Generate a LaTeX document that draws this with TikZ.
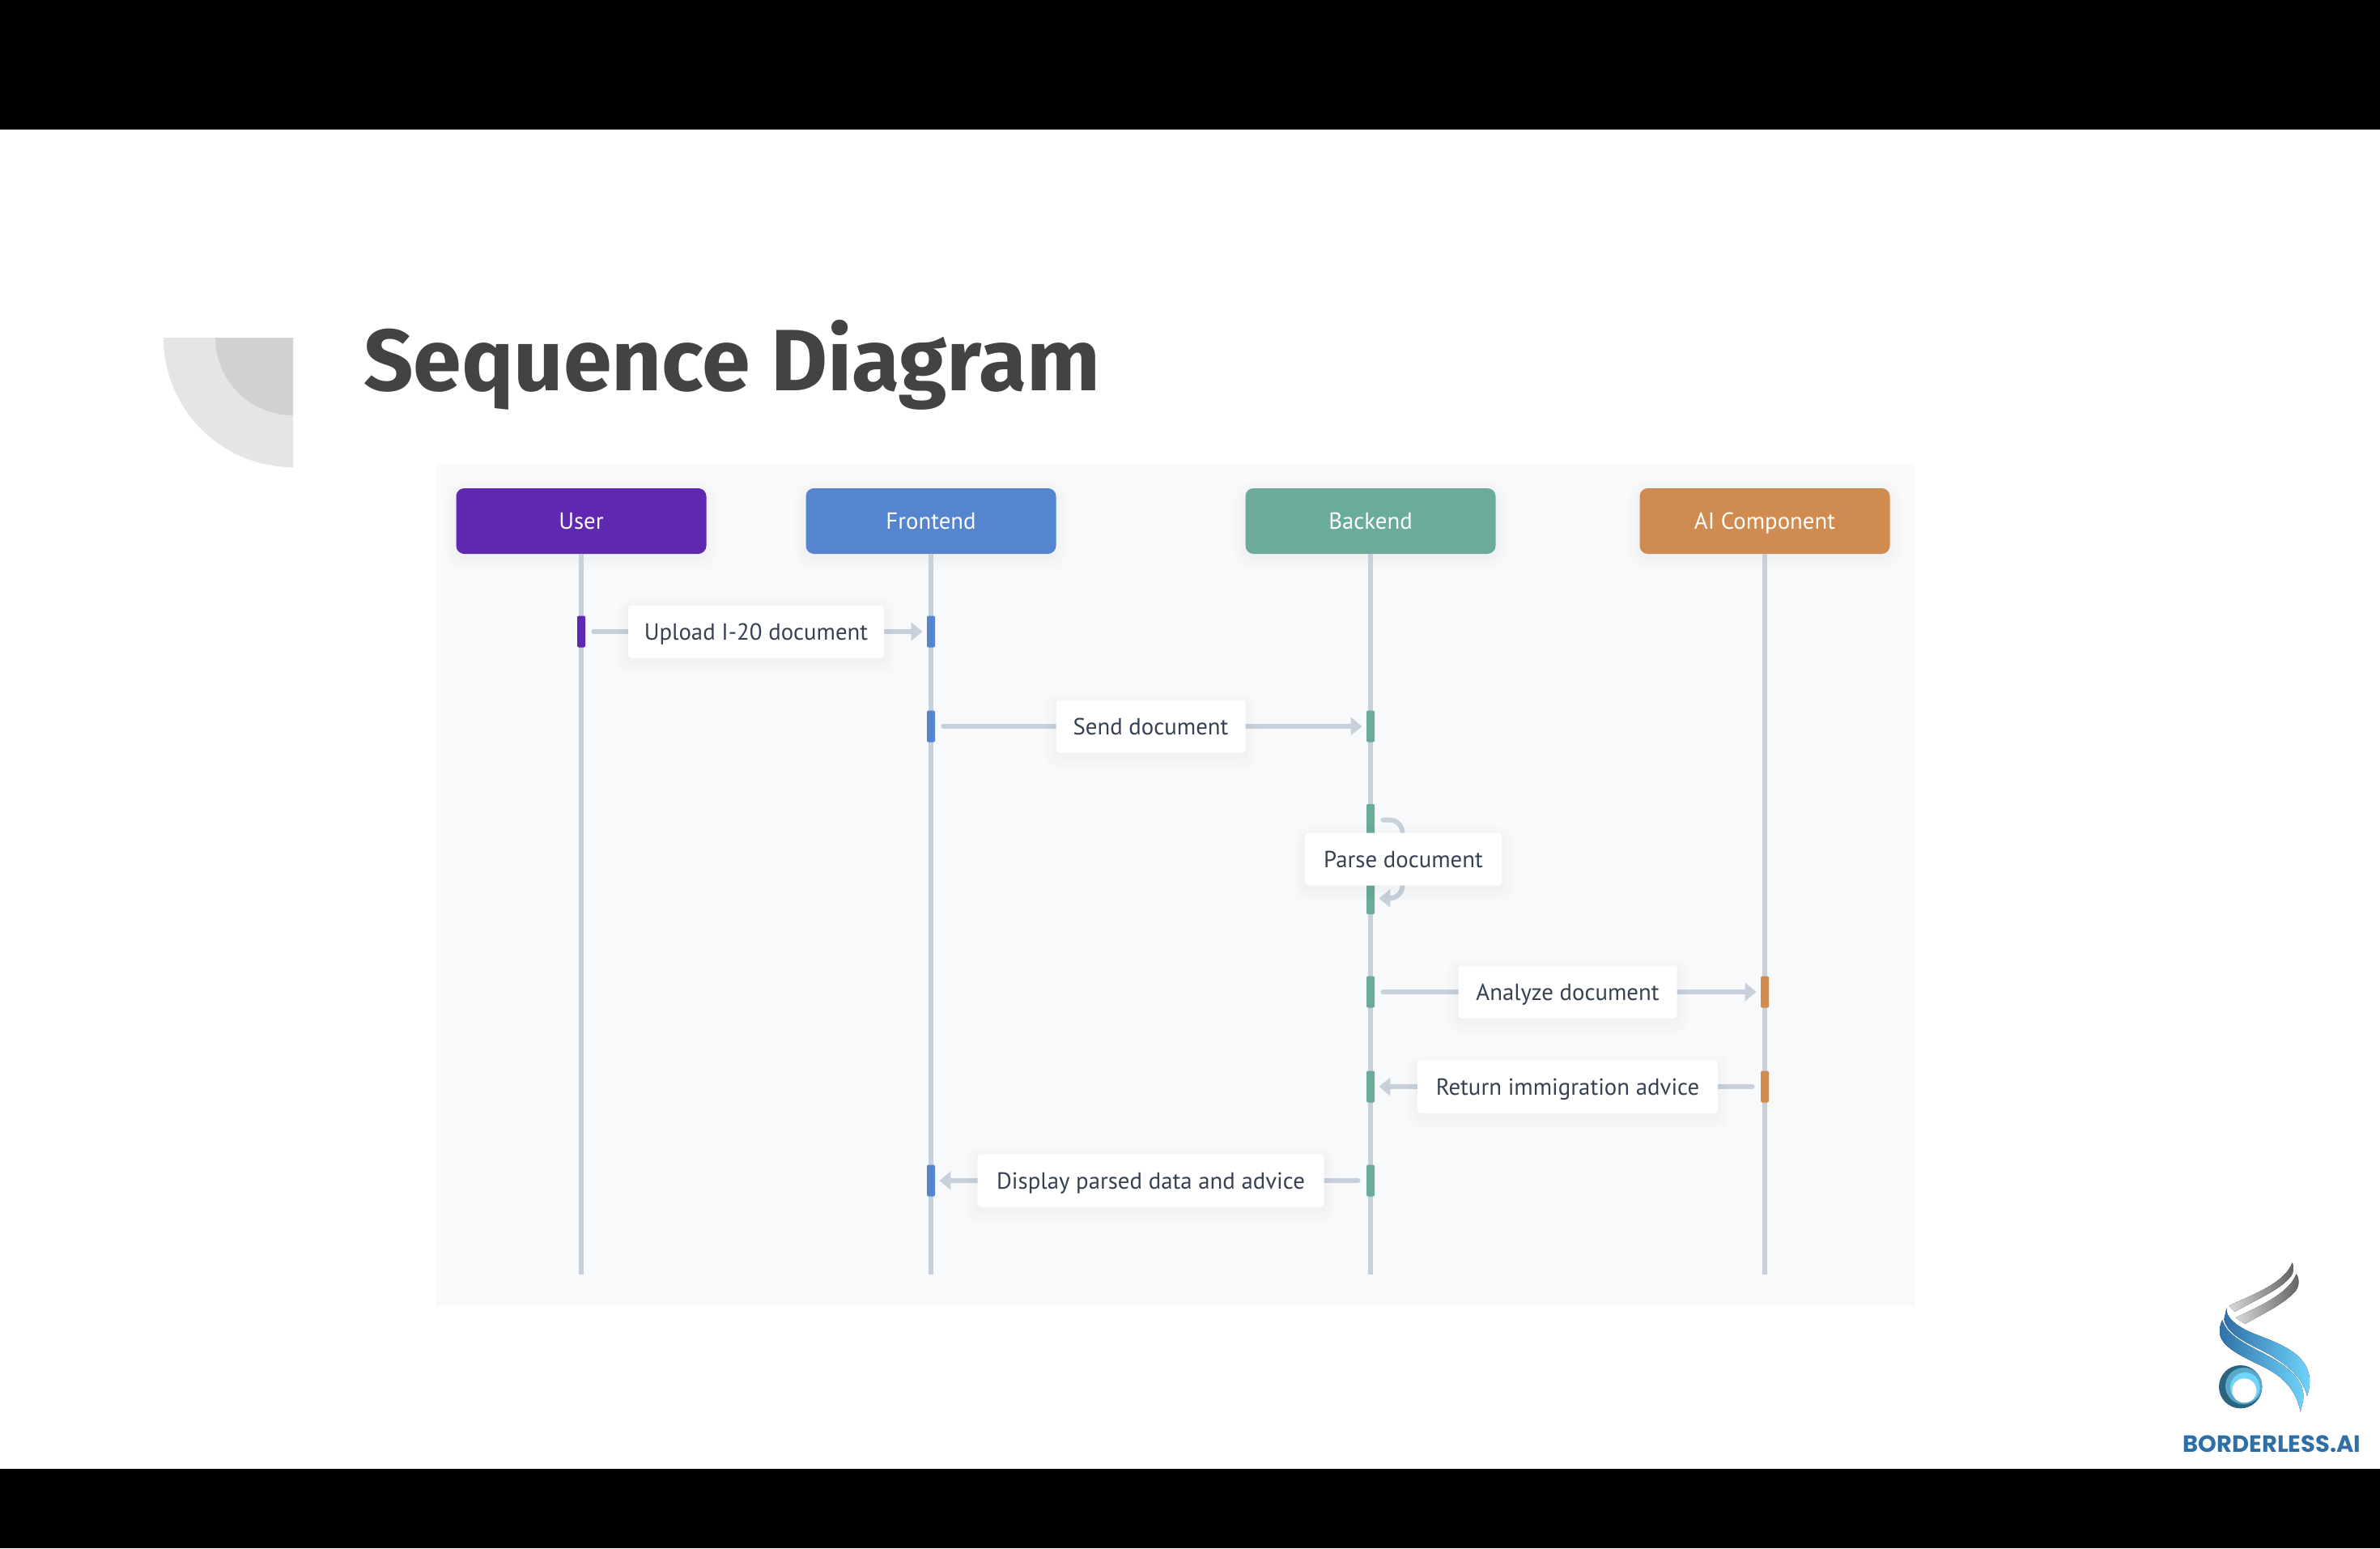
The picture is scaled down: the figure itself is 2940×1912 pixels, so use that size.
\documentclass[tikz,border=0pt]{standalone}
\usepackage{fontspec}
\setmainfont{PT Sans}
\newfontfamily\titlefont{Fira Sans}
\newfontfamily\logofont{Poppins}
\usetikzlibrary{arrows.meta, positioning}
\definecolor{usercol}{HTML}{6027B0}
\definecolor{frontcol}{HTML}{5585CE}
\definecolor{backcol}{HTML}{6AAB9C}
\definecolor{aicol}{HTML}{D08C50}
\definecolor{linecol}{HTML}{C8D0DC}
\definecolor{panelcol}{HTML}{F7F9FB}
\definecolor{textcol}{HTML}{374151}
\definecolor{titlecol}{HTML}{434343}
\definecolor{logocol}{HTML}{2F6FA8}
\definecolor{logolight}{HTML}{6FD5FB}
\definecolor{ringdark}{HTML}{2A6480}
\definecolor{ringmid}{HTML}{5AA8C8}

\begin{document}
\begin{tikzpicture}[
           x = 0.5pt, y = -0.5pt,
softshadow/.style = {preaction={draw=black,draw opacity=.007,line width=14pt,transform canvas={yshift=-3pt}},
                     preaction={draw=black,draw opacity=.008,line width=9pt,transform canvas={yshift=-3pt}},
                     preaction={draw=black,draw opacity=.01,line width=4pt,transform canvas={yshift=-2pt}}},
     actor/.style = {softshadow, rounded corners=5pt, minimum width=154.5pt, minimum height=40.5pt,
                     inner sep=0pt, text=white, text height=10pt, text depth=0pt,
                     font=\fontsize{14.4}{16}\selectfont},
  lifeline/.style = {line width=3.2pt, linecol},
activation/.style = {rounded corners=1pt, minimum width=5pt, minimum height=19.5pt, inner sep=0pt},
       msg/.style = {line width=3pt, linecol, line cap=round, -{Triangle[length=7pt,width=11pt]},
                     shorten <=5pt, shorten >=2.5pt},
  msglabel/.style = {softshadow, fill=white, rounded corners=2pt, minimum height=32.5pt, inner sep=0pt,
                     text=textcol, text height=10pt, text depth=0pt,
                     font=\fontsize{14.4}{16}\selectfont}
                        ]
\useasboundingbox (0,0) rectangle (2940,1912);
% bars and panel
    \fill[black] (0,0) rectangle (2940,160);
    \fill[black] (0,1814) rectangle (2940,1912);
    \fill[panelcol] (538,573) rectangle (2366,1613);
% corner shape and title
    \fill[black!10] (362,417) -- (202,417) arc (180:90:160) -- cycle;
    \fill[black!18] (362,417) -- (266,417) arc (180:90:96) -- cycle;
    \node[anchor=west, inner sep=0pt, text=titlecol, font=\titlefont\bfseries\fontsize{53.8}{60}\selectfont] (title) at (449,451) {Sequence Diagram};
% participants
    \node[actor, fill=usercol] (user) at (718,643.5) {User};
    \node[actor, fill=frontcol] (front) at (1150,643.5) {Frontend};
    \node[actor, fill=backcol] (back) at (1693,643.5) {Backend};
    \node[actor, fill=aicol] (ai) at (2180,643.5) {AI Component};
% lifelines
    \coordinate (userEnd) at (718,1574);
    \coordinate (frontEnd) at (1150,1574);
    \coordinate (backEnd) at (1693,1574);
    \coordinate (aiEnd) at (2180,1574);
    \draw[lifeline] (user.south) -- (userEnd);
    \draw[lifeline] (front.south) -- (frontEnd);
    \draw[lifeline] (back.south) -- (backEnd);
    \draw[lifeline] (ai.south) -- (aiEnd);
% activations
    \node[activation, fill=usercol] (a1) at (718,780) {};
    \node[activation, fill=frontcol] (b1) at (1150,780) {};
    \node[activation, fill=frontcol] (a2) at (1150,897) {};
    \node[activation, fill=backcol] (b2) at (1693,897) {};
    \node[activation, fill=backcol] (a3) at (1693,1012.5) {};
    \node[activation, fill=backcol] (b3) at (1693,1109.5) {};
    \node[activation, fill=backcol] (a4) at (1693,1225) {};
    \node[activation, fill=aicol] (b4) at (2180,1225) {};
    \node[activation, fill=aicol] (a5) at (2180,1342) {};
    \node[activation, fill=backcol] (b5) at (1693,1342) {};
    \node[activation, fill=backcol] (a6) at (1693,1458) {};
    \node[activation, fill=frontcol] (b6) at (1150,1458) {};
% messages
    \draw[msg] (a1) -- (b1) node[msglabel, midway, minimum width=158pt] (m1) {Upload I-20 document};
    \draw[msg] (a2) -- (b2) node[msglabel, midway, minimum width=117pt] (m2) {Send document};
    \draw[msg, rounded corners=8pt] (a3.east) -- ++(34,0) |- (b3.east);
    \node[msglabel, minimum width=121.5pt] (m3) at (1733.5,1061) {Parse document};
    \draw[msg] (a4) -- (b4) node[msglabel, midway, minimum width=135pt] (m4) {Analyze document};
    \draw[msg] (a5) -- (b5) node[msglabel, midway, minimum width=185.5pt] (m5) {Return immigration advice};
    \draw[msg] (a6) -- (b6) node[msglabel, midway, minimum width=214pt] (m6) {Display parsed data and advice};
% logo, drawn in thirds of a pixel
\begin{scope}[shift={(2640,1530)}, x=0.16667pt, y=-0.16667pt]
    \fill[left color=black!15, right color=black!62] (340,248) .. controls (430,205) and (545,165) .. (575,88) .. controls (582,105) and (580,125) .. (570,138) .. controls (530,190) and (440,225) .. (362,270) -- cycle;
    \fill[left color=black!15, right color=black!62] (365,292) .. controls (450,250) and (560,205) .. (590,130) .. controls (603,150) and (600,180) .. (585,195) .. controls (540,245) and (460,280) .. (400,315) -- cycle;
    \fill[left color=logocol, right color=logolight] (332,255) .. controls (325,290) and (370,325) .. (430,350) .. controls (520,385) and (625,420) .. (638,510) .. controls (642,540) and (635,565) .. (630,582) .. controls (610,510) and (560,470) .. (490,428) .. controls (420,390) and (335,360) .. (322,298) -- cycle;
    \fill[left color=logocol, right color=logolight] (316,300) .. controls (330,360) and (420,398) .. (490,436) .. controls (570,480) and (625,530) .. (615,600) -- (605,640) .. controls (590,560) and (540,510) .. (470,475) .. controls (400,440) and (300,400) .. (306,340) .. controls (306,325) and (310,310) .. (316,300) -- cycle;
    \fill[ringdark] (383,548) circle (80);
    \fill[ringmid] (395,545) circle (68);
    \fill[logolight] (400,550) circle (55);
    \fill[white] (397,562) circle (45);
\end{scope}
    \node[inner sep=0pt, text=logocol, font=\logofont\bfseries\fontsize{14.5}{16}\selectfont] (logotext) at (2806.5,1783) {BORDERLESS.AI};
\end{tikzpicture}
\end{document}
